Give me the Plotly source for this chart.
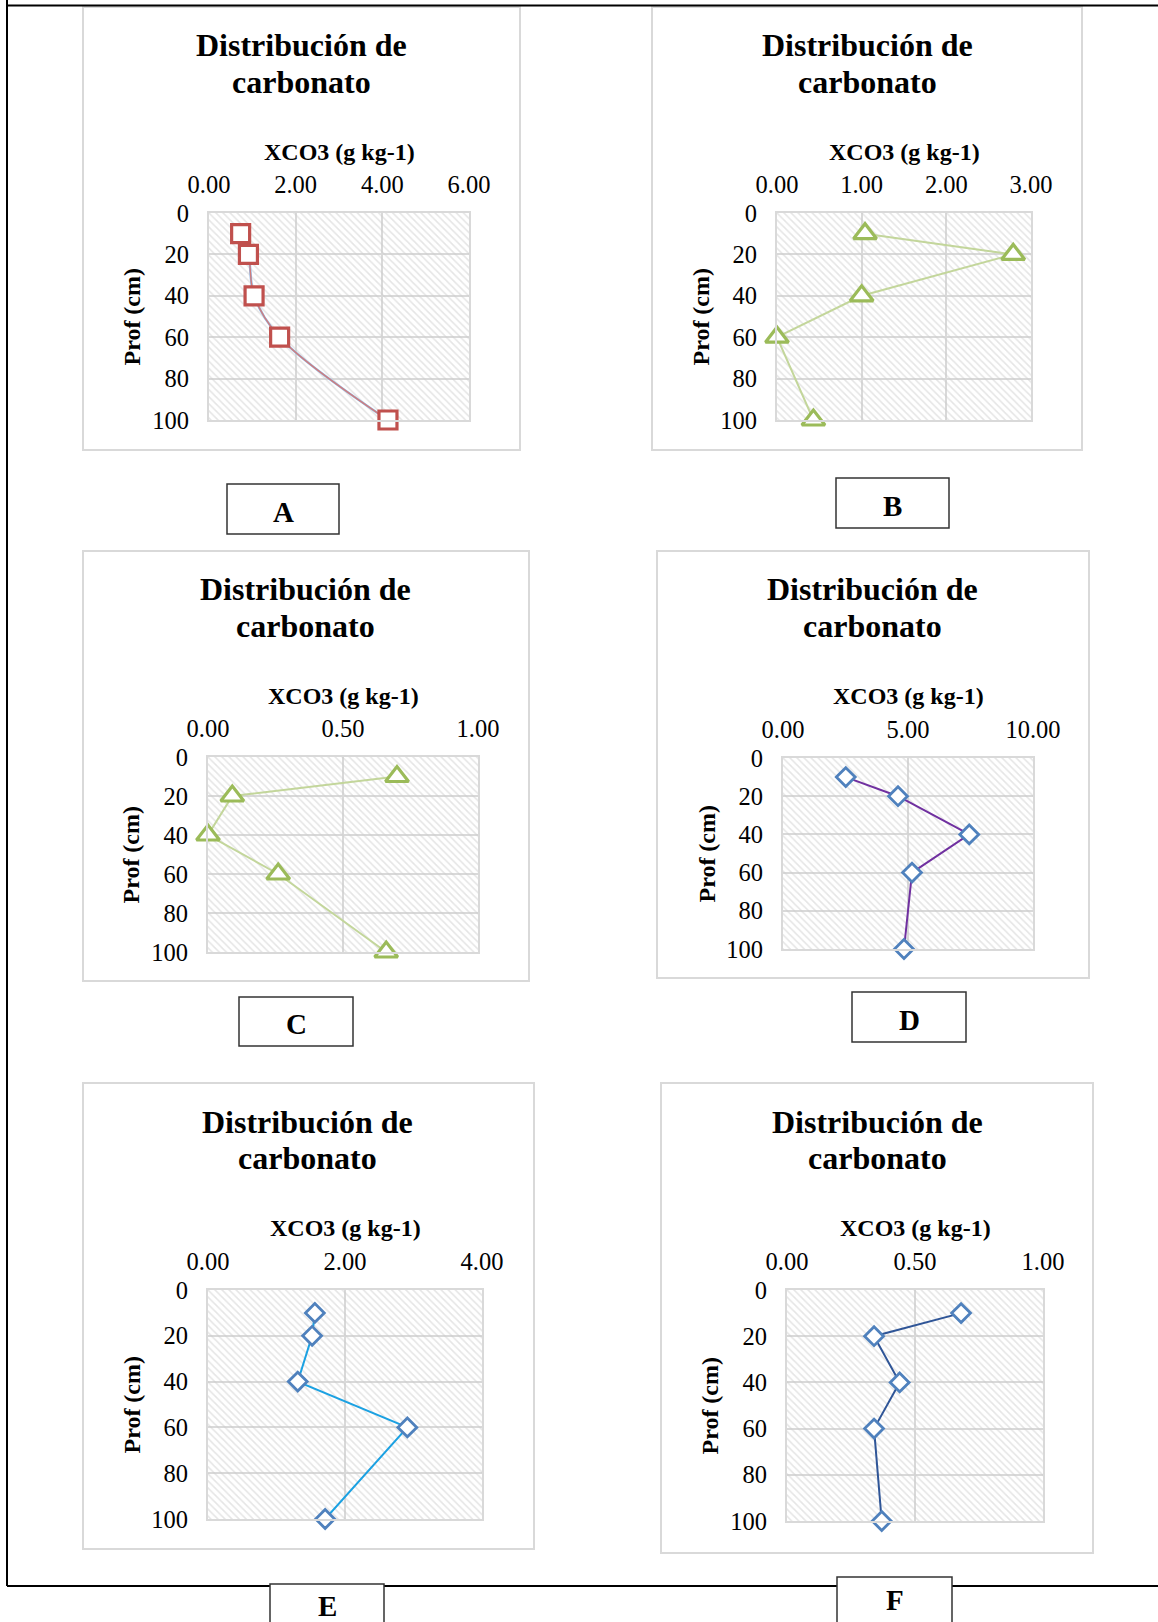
import plotly.graph_objects as go

# ---------------- data ----------------
depth = [10, 20, 40, 60, 100]
xco3_A = [0.73, 0.91, 1.04, 1.63, 4.13]
xco3_B = [1.04, 2.79, 1.00, 0.00, 0.43]
xco3_C = [0.70, 0.09, 0.00, 0.26, 0.66]
xco3_D = [2.51, 4.60, 7.45, 5.16, 4.84]
xco3_E = [1.56, 1.52, 1.31, 2.91, 1.71]
xco3_F = [0.68, 0.34, 0.44, 0.34, 0.37]

panel_letters = ["A", "B", "C", "D", "E", "F"]
x_axis_max = [6, 3, 1, 10, 4, 1]
x_axis_dtick = [2, 1, 0.5, 5, 2, 0.5]
y_axis_ticks = [0, 20, 40, 60, 80, 100]

title_line1 = "Distribución de"
title_line2 = "carbonato"
x_title = "XCO3 (g kg-1)"
y_title = "Prof (cm)"

# ---------------- layout geometry (pixels) ----------------
W, H = 1158, 1622
FONT = "Liberation Serif"
GRID = "#D9D9D9"

# plot areas: (left, top, right, bottom)
plots = [
    (209, 213, 469, 420),
    (777, 213, 1031, 420),
    (208, 757, 478, 952),
    (783, 758, 1033, 949),
    (208, 1290, 482, 1519),
    (787, 1290, 1043, 1521),
]
# chart borders
boxes = [
    (83, 7, 520, 450),
    (652, 7, 1082, 450),
    (83, 551, 529, 981),
    (657, 551, 1089, 978),
    (83, 1083, 534, 1549),
    (661, 1083, 1093, 1553),
]
# label boxes
label_boxes = [
    (227, 484, 339, 534),
    (836, 478, 949, 528),
    (239, 997, 353, 1046),
    (852, 992, 966, 1042),
    (270, 1584, 384, 1630),
    (837, 1577, 952, 1630),
]
label_text_y = [512, 506, 1024, 1020, 1606, 1600]
title_pos = [(301, 45, 82), (867, 45, 82), (305, 589, 626),
             (872, 589, 626), (307, 1122, 1158), (877, 1122, 1158)]
xt_y = [152, 152, 696, 696, 1228, 1228]
yt_x = [131, 700, 131, 706, 131, 709]


def px(x):
    return x / W


def py(y):
    return 1 - y / H


fig = go.Figure()

series = [xco3_A, xco3_B, xco3_C, xco3_D, xco3_E, xco3_F]
line_colors = ["#C0504D", "#C3D69B", "#C3D69B", "#7030A0", "#1BA1E2", "#2F5597"]
marker_colors = ["#C0504D", "#9BBB59", "#9BBB59", "#4F81BD", "#4F81BD", "#4F81BD"]
marker_symbols = ["square", "triangle-up", "triangle-up", "diamond", "diamond", "diamond"]
marker_sizes = [18, 20, 20, 14.5, 14.5, 14.5]
marker_lw = [3.2, 3.2, 3.2, 2.8, 2.8, 2.8]

shapes = []
annotations = []

for i in range(6):
    n = "" if i == 0 else str(i + 1)
    xa = "x" + n
    ya = "y" + n
    L, T, R, B = plots[i]
    xmax = x_axis_max[i]

    # hatched background of plot area
    fig.add_trace(go.Scatter(
        x=[0, xmax, xmax, 0, 0], y=[0, 0, 100, 100, 0],
        xaxis=xa, yaxis=ya, mode="lines", line=dict(width=0),
        fill="toself", fillcolor="rgba(255,255,255,0)",
        fillpattern=dict(shape="\\", fgcolor="#CCCCCC", bgcolor="rgba(255,255,255,0)",
                         size=5, solidity=0.32),
        hoverinfo="skip", showlegend=False))

    if i == 0:
        fig.add_trace(go.Scatter(
            x=series[i], y=depth, xaxis=xa, yaxis=ya, mode="lines",
            line=dict(color="#8EB4E3", width=2.4, shape="spline"),
            showlegend=False, cliponaxis=False))
        fig.add_trace(go.Scatter(
            x=series[i], y=depth, xaxis=xa, yaxis=ya, mode="lines+markers",
            line=dict(color="#D27C7A", width=1.3, shape="spline"),
            marker=dict(symbol=marker_symbols[i], size=marker_sizes[i], color="white",
                        line=dict(color=marker_colors[i], width=marker_lw[i])),
            showlegend=False, cliponaxis=False))
    else:
        fig.add_trace(go.Scatter(
            x=series[i], y=depth, xaxis=xa, yaxis=ya, mode="lines+markers",
            line=dict(color=line_colors[i], width=2),
            marker=dict(symbol=marker_symbols[i], size=marker_sizes[i], color="white",
                        line=dict(color=marker_colors[i], width=marker_lw[i])),
            showlegend=False, cliponaxis=False))

    axis_common = dict(
        showgrid=True, gridcolor=GRID, gridwidth=2,
        showline=True, linecolor=GRID, linewidth=2, mirror=True,
        zeroline=False, ticks="", fixedrange=True, automargin=False,
        tickfont=dict(family=FONT, size=24.5, color="black"),
    )
    fig.layout["xaxis" + n] = dict(
        axis_common, domain=[px(L), px(R)], anchor=ya, side="top",
        range=[0, xmax], tickmode="linear", tick0=0, dtick=x_axis_dtick[i],
        tickformat=".2f", ticklabelstandoff=8,
    )
    fig.layout["yaxis" + n] = dict(
        axis_common, domain=[py(B), py(T)], anchor=xa,
        range=[100, 0], tickmode="array", tickvals=y_axis_ticks,
        ticklabelstandoff=13,
    )

    # chart border
    bx0, by0, bx1, by1 = boxes[i]
    shapes.append(dict(type="rect", xref="paper", yref="paper",
                       x0=px(bx0), y0=py(by1), x1=px(bx1), y1=py(by0),
                       line=dict(color=GRID, width=2), layer="below"))

    # titles
    tx, ty1, ty2 = title_pos[i]
    for txt, ty in ((title_line1, ty1), (title_line2, ty2)):
        annotations.append(dict(text="<b>%s</b>" % txt, x=px(tx), y=py(ty),
                                xref="paper", yref="paper", showarrow=False,
                                xanchor="center", yanchor="middle",
                                font=dict(family=FONT, size=32, color="black")))
    # axis titles
    annotations.append(dict(text="<b>%s</b>" % x_title, x=px((L + R) / 2), y=py(xt_y[i]),
                            xref="paper", yref="paper", showarrow=False,
                            xanchor="center", yanchor="middle",
                            font=dict(family=FONT, size=24, color="black")))
    annotations.append(dict(text="<b>%s</b>" % y_title, x=px(yt_x[i]), y=py((T + B) / 2),
                            xref="paper", yref="paper", showarrow=False, textangle=-90,
                            xanchor="center", yanchor="middle",
                            font=dict(family=FONT, size=24, color="black")))

# page frame lines
shapes.append(dict(type="line", xref="paper", yref="paper",
                   x0=px(7), y0=py(0), x1=px(7), y1=py(1586),
                   line=dict(color="black", width=2), layer="above"))
shapes.append(dict(type="line", xref="paper", yref="paper",
                   x0=px(7), y0=py(5.5), x1=px(1158), y1=py(5.5),
                   line=dict(color="black", width=2), layer="above"))
shapes.append(dict(type="line", xref="paper", yref="paper",
                   x0=px(7), y0=py(1586), x1=px(1158), y1=py(1586),
                   line=dict(color="black", width=2), layer="above"))

# label boxes
for i in range(6):
    x0, y0, x1, y1 = label_boxes[i]
    shapes.append(dict(type="rect", xref="paper", yref="paper",
                       x0=px(x0), y0=py(y1), x1=px(x1), y1=py(y0),
                       line=dict(color="#333333", width=1.5), fillcolor="white",
                       layer="above"))
    annotations.append(dict(text="<b>%s</b>" % panel_letters[i], x=px((x0 + x1) / 2),
                            y=py(label_text_y[i]), xref="paper", yref="paper",
                            showarrow=False, xanchor="center", yanchor="middle",
                            font=dict(family=FONT, size=29, color="black")))

fig.update_layout(
    width=W, height=H, margin=dict(l=0, r=0, t=0, b=0, pad=0, autoexpand=False),
    paper_bgcolor="white", plot_bgcolor="white",
    shapes=shapes, annotations=annotations, showlegend=False,
)

fig.write_html("out.html")
